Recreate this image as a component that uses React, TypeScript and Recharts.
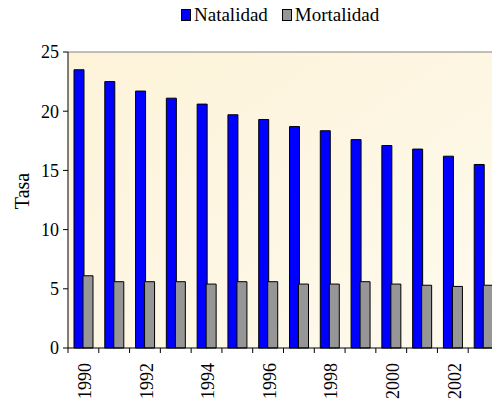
import { Bar, BarChart, CartesianGrid, ReferenceLine, XAxis, YAxis } from 'recharts'

const years = ['1990', '1991', '1992', '1993', '1994', '1995', '1996', '1997', '1998', '1999', '2000', '2001', '2002', '2003']
const natalidad = [23.5, 22.5, 21.7, 21.1, 20.6, 19.7, 19.3, 18.7, 18.35, 17.6, 17.1, 16.8, 16.2, 15.5]
const mortalidad = [6.1, 5.6, 5.6, 5.6, 5.4, 5.6, 5.6, 5.4, 5.4, 5.6, 5.4, 5.3, 5.2, 5.3]
const yTicks = [0, 5, 10, 15, 20, 25]

const data = years.map((year, i) => ({
  year,
  natalidad: natalidad[i],
  mortalidad: mortalidad[i],
}))

const font = 'Liberation Serif'

const CHART_W = 500
const CHART_H = 407
const LEFT = 68
const RIGHT_MARGIN = 1
const band = (CHART_W - LEFT - RIGHT_MARGIN) / years.length

const YearTick = ({ x, y, payload, index }) => {
  const bx = x - band / 2
  return (
    <g>
      <line x1={bx} y1={y - 8} x2={bx} y2={y - 3} stroke="#000" />
      {index % 2 === 0 && (
        <text
          transform={`translate(${x + 1.5}, ${y + 7}) rotate(-90)`}
          textAnchor="end"
          dy="0.35em"
          fill="#000"
          fontSize={18}
          style={{ fontFamily: font }}
        >
          {payload.value}
        </text>
      )}
    </g>
  )
}

const TasaLabel = () => (
  <text
    transform="translate(22, 191) rotate(-90)"
    textAnchor="middle"
    dominantBaseline="central"
    fontSize={20}
    style={{ fontFamily: font }}
    fill="#000"
  >
    Tasa
  </text>
)

const LegendBox = ({ color, label }) => (
  <span style={{ display: 'inline-flex', alignItems: 'center', marginRight: 14 }}>
    <span
      style={{
        display: 'inline-block',
        width: 8,
        height: 10,
        background: color,
        border: '1px solid #000',
        marginRight: 3,
      }}
    />
    <span>{label}</span>
  </span>
)

export default function App() {
  return (
    <div
      style={{
        position: 'absolute',
        left: 0,
        top: 0,
        width: 492,
        height: 407,
        overflow: 'hidden',
        background: '#fff',
        fontFamily: font,
      }}
    >
      <div
        style={{
          position: 'absolute',
          left: 181,
          top: 4,
          fontSize: 19,
          whiteSpace: 'nowrap',
          color: '#000',
        }}
      >
        <LegendBox color="#0000ff" label="Natalidad" />
        <LegendBox color="#969696" label="Mortalidad" />
      </div>
      <BarChart
        width={CHART_W}
        height={CHART_H}
        data={data}
        margin={{ top: 52, right: RIGHT_MARGIN, left: 0, bottom: 0 }}
        barSize={10}
        barGap={-1}
        style={{ fontFamily: font }}
      >
        <defs>
          <linearGradient id="bg" x1="0" y1="0" x2="1" y2="1">
            <stop offset="0%" stopColor="#fdf3d9" />
            <stop offset="50%" stopColor="#fdf6e2" />
            <stop offset="100%" stopColor="#fefaee" />
          </linearGradient>
        </defs>
        <CartesianGrid horizontal={false} vertical={false} fill="url(#bg)" />
        <ReferenceLine y={25} stroke="#808080" />
        <XAxis
          dataKey="year"
          height={59}
          interval={0}
          tickLine={false}
          axisLine={{ stroke: '#000' }}
          tick={YearTick}
        />
        <YAxis
          width={LEFT}
          domain={[0, 25]}
          ticks={yTicks}
          tickSize={5}
          tickMargin={4}
          tickLine={{ stroke: '#000' }}
          axisLine={{ stroke: '#000' }}
          tick={{ fill: '#000', fontSize: 18, fontFamily: font }}
          label={<TasaLabel />}
        />
        <Bar dataKey="natalidad" name="Natalidad" fill="#0000ff" stroke="#000" isAnimationActive={false} />
        <Bar dataKey="mortalidad" name="Mortalidad" fill="#969696" stroke="#000" isAnimationActive={false} />
      </BarChart>
    </div>
  )
}
